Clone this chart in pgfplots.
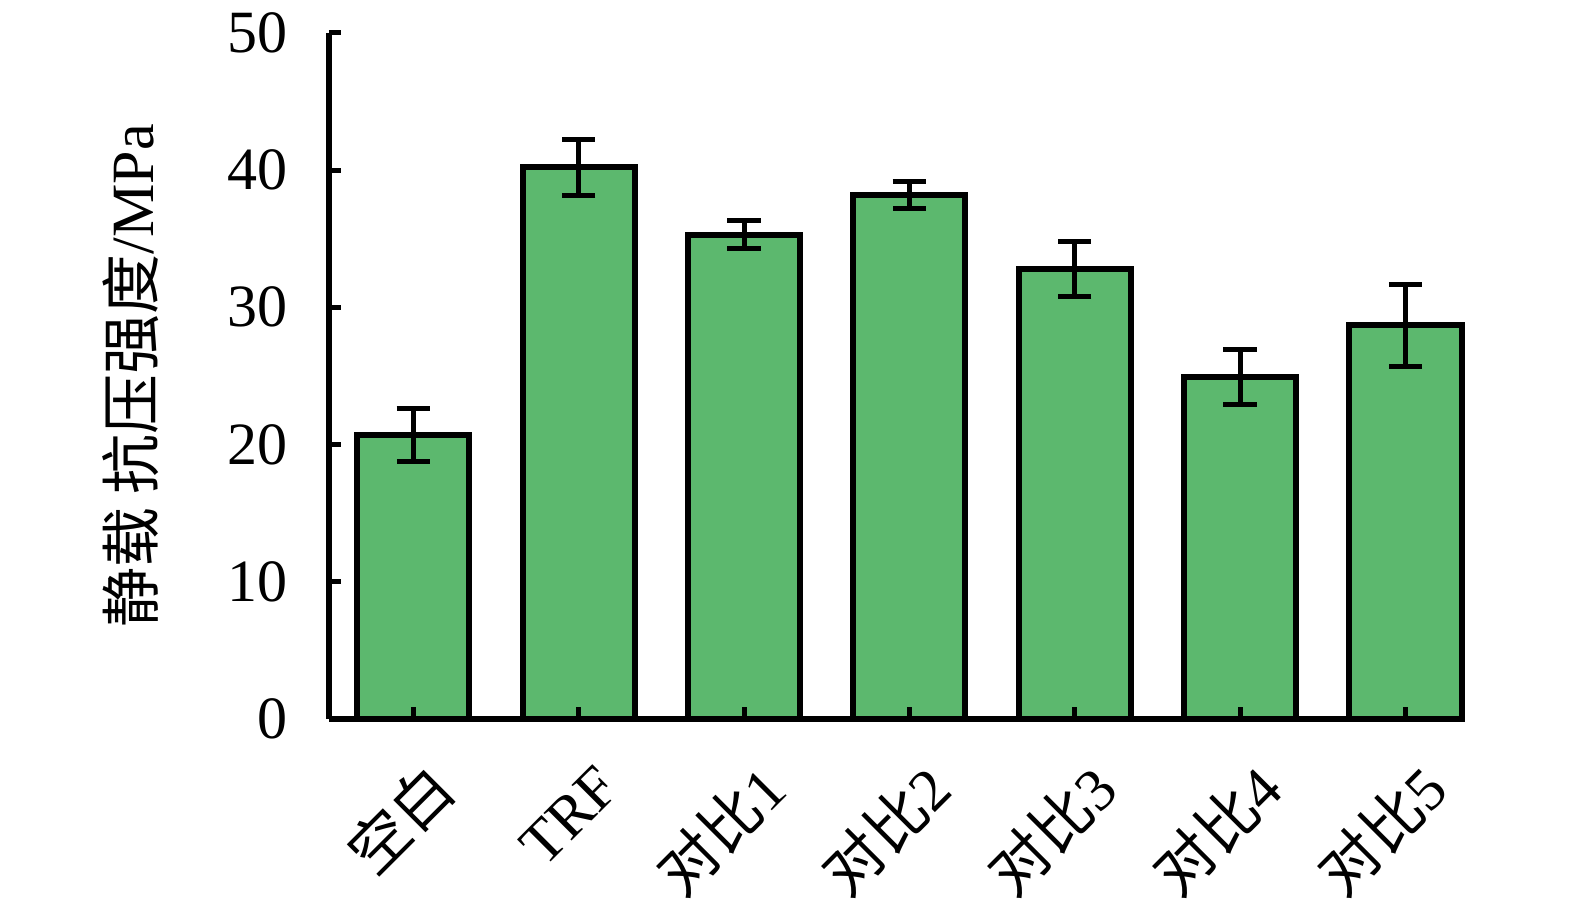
\documentclass[border=0pt]{standalone}
\usepackage{fontspec}
\setmainfont{Liberation Serif}
\newfontfamily\cjk{Noto Sans CJK SC}
\usepackage{pgfplots}
\pgfplotsset{compat=1.18}
\definecolor{barfill}{RGB}{92,184,110}
\begin{document}
\begin{tikzpicture}[font=\fontsize{18}{21}\selectfont]
  \begin{axis}[
      scale only axis,
      width=340.8pt, height=205.8pt,
      xmin=-0.51, xmax=6.36,
      ymin=0, ymax=50,
      clip=false,
      axis on top,
      axis x line*=bottom,
      axis y line*=left,
      axis line style={-, line width=1.6pt},
      xtick pos=bottom,
      ytick pos=left,
      tick align=inside,
      major tick length=3.6pt,
      tick style={line width=1.5pt, black},
      major x tick style={yshift=3.6pt},
      xtick={0,1,2,3,4,5,6},
      xticklabels={{\cjk 空白},TRF,{\cjk 对比}1,{\cjk 对比}2,{\cjk 对比}3,{\cjk 对比}4,{\cjk 对比}5},
      xticklabel style={rotate=45, anchor=east, xshift=0pt, yshift=-16pt},
      ytick={0,10,20,30,40,50},
      yticklabel style={xshift=-9pt},
      /pgf/number format/assume math mode=true,
      ylabel={{\cjk 静载 抗压强度}/MPa},
      ylabel style={at={(axis description cs:-0.175,0.5)}, anchor=center},
      ybar,
      bar width=33.6pt,
    ]
    \addplot[fill=barfill, draw=black, line width=1.8pt,
      error bars/.cd, y dir=both, y explicit,
      error bar style={line width=1.5pt, black},
      error mark options={rotate=90, mark size=5pt, line width=1.5pt, black}]
      coordinates {
        (0,20.7) +- (0,1.95)
        (1,40.2) +- (0,2.05)
        (2,35.3) +- (0,1.0)
        (3,38.2) +- (0,1.0)
        (4,32.8) +- (0,2.0)
        (5,24.9) +- (0,2.0)
        (6,28.7) +- (0,3.0)
      };
    \path (rel axis cs:-0.2896,-0.2857) rectangle (rel axis cs:1.0968,1.048);
  \end{axis}
\end{tikzpicture}
\end{document}
